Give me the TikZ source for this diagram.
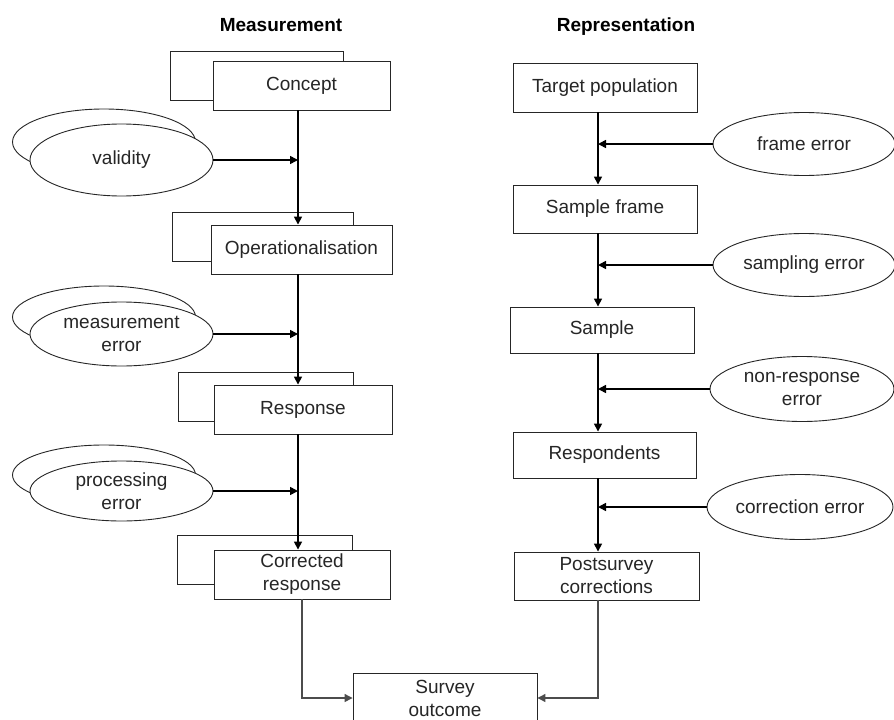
\documentclass[tikz,border=0pt]{standalone}
\usepackage{fontspec}
\setmainfont{Liberation Sans}
\usetikzlibrary{shapes.geometric,arrows.meta}
\begin{document}
\begin{tikzpicture}[x=1pt,y=-1pt,
  font=\fontsize{19}{23}\selectfont,
  stepbox/.style={draw=black!85,line width=0.9pt,fill=white,rectangle,minimum height=49pt,inner sep=2pt,align=center,text=black!85},
  errell/.style={draw=black!85,line width=0.9pt,fill=white,ellipse,inner sep=0pt,align=center,text=black!85},
  arr/.style={draw=black,line width=1.6pt,-{Triangle[length=8pt,width=8pt]}},
  thinarr/.style={draw=black!70,line width=1.2pt,-{Triangle[length=8pt,width=8pt]}},
  head/.style={font=\fontsize{19}{23}\selectfont\bfseries,text=black,anchor=base}]
\useasboundingbox (0,0) rectangle (894,720);
\fill[white] (0,0) rectangle (894,720);

% headers
\node[head] (hm) at (281,31) {Measurement};
\node[head] (hr) at (626,31) {Representation};

% guide coordinates for vertical lines
\coordinate (ml) at (298,0);
\coordinate (mr) at (598,0);

% ---------- Measurement column ----------
\node[stepbox,minimum width=173pt] (c1b) at (256.5,75.5) {};
\node[stepbox,minimum width=177pt] (c1) at (301.5,85.5) {Concept};
\node[stepbox,minimum width=181pt] (c2b) at (262.5,236.5) {};
\node[stepbox,minimum width=181pt] (c2) at (301.5,249.5) {Operationalisation};
\node[stepbox,minimum width=175pt] (c3b) at (265.5,396.5) {};
\node[stepbox,minimum width=178pt] (c3) at (303,409.5) {Response};
\node[stepbox,minimum width=175pt] (c4b) at (264.5,559.5) {};
\node[stepbox,minimum width=176pt] (c4) at (302,574.5) {Corrected\\response};

\node[errell,minimum width=183pt,minimum height=66pt] (e1b) at (104,142) {};
\node[errell,minimum width=183pt,minimum height=72pt] (e1) at (121.5,160) {validity};
\node[errell,minimum width=183pt,minimum height=62pt] (e2b) at (104,317) {};
\node[errell,minimum width=183pt,minimum height=64pt] (e2) at (121.5,334) {measurement\\error};
\node[errell,minimum width=183pt,minimum height=60pt] (e3b) at (104,475) {};
\node[errell,minimum width=183pt,minimum height=60pt] (e3) at (121.5,491) {processing\\error};

\draw[arr] (ml |- c1.south) -- (ml |- c2.north);
\draw[arr] (ml |- c2.south) -- (ml |- c3.north);
\draw[arr] (ml |- c3.south) -- (ml |- c4.north);
\draw[arr] (e1.east) -- (e1.east -| ml);
\draw[arr] (e2.east) -- (e2.east -| ml);
\draw[arr] (e3.east) -- (e3.east -| ml);

% ---------- Representation column ----------
\node[stepbox,minimum width=184pt] (r1) at (605,87.5) {Target population};
\node[stepbox,minimum width=184pt,minimum height=48pt] (r2) at (605,209) {Sample frame};
\node[stepbox,minimum width=184pt,minimum height=46pt] (r3) at (602,330) {Sample};
\node[stepbox,minimum width=183pt,minimum height=46pt] (r4) at (604.5,455) {Respondents};
\node[stepbox,minimum width=185pt,minimum height=48pt] (r5) at (606.5,576) {Postsurvey\\corrections};

\node[errell,minimum width=182pt,minimum height=63pt] (f1) at (804,144) {frame error};
\node[errell,minimum width=182pt,minimum height=63pt] (f2) at (804,265) {sampling error};
\node[errell,minimum width=184pt,minimum height=65pt] (f3) at (802,389) {non-response\\error};
\node[errell,minimum width=186pt,minimum height=65pt] (f4) at (800,507) {correction error};

\draw[arr] (mr |- r1.south) -- (mr |- r2.north);
\draw[arr] (mr |- r2.south) -- (mr |- r3.north);
\draw[arr] (mr |- r3.south) -- (mr |- r4.north);
\draw[arr] (mr |- r4.south) -- (mr |- r5.north);
\draw[arr] (f1.west) -- (f1.west -| mr);
\draw[arr] (f2.west) -- (f2.west -| mr);
\draw[arr] (f3.west) -- (f3.west -| mr);
\draw[arr] (f4.west) -- (f4.west -| mr);

% ---------- Survey outcome ----------
\node[stepbox,minimum width=184pt,minimum height=50pt] (out) at (445,698) {Survey\\outcome};
\draw[thinarr] (c4.south) |- (out.west);
\draw[thinarr] (mr |- r5.south) |- (out.east);
\end{tikzpicture}
\end{document}
